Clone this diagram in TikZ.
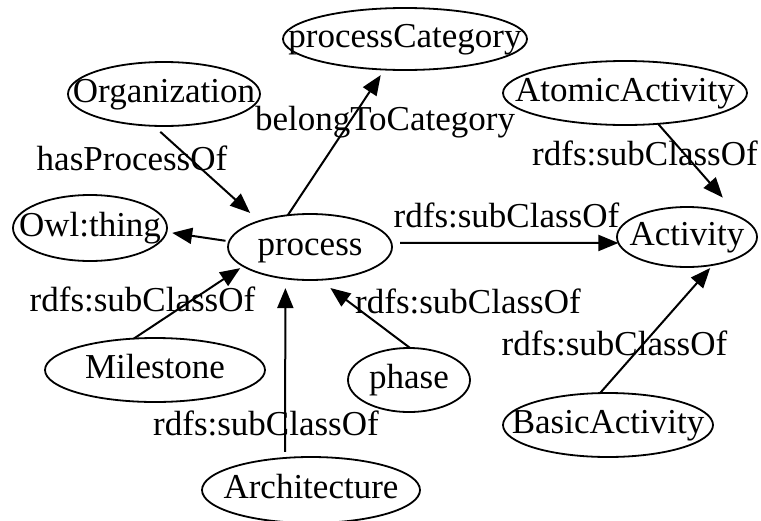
\documentclass[tikz,border=0pt]{standalone}
\usepackage{fontspec}
\setmainfont{Liberation Serif}
\usetikzlibrary{arrows.meta,shapes.geometric}
\newcommand{\ctext}[1]{\makebox[0pt]{\strut #1}}
\begin{document}
\begin{tikzpicture}[x=1pt,y=-1pt,
  every node/.append style={font=\fontsize{35}{42}\selectfont},
  cls/.style={draw, ellipse, line width=1.8pt, inner sep=0pt, outer sep=0pt},
  lbl/.style={inner sep=0pt, anchor=center},
  arr/.style={-{Triangle[length=20pt,width=16pt]}, line width=2pt}]
\useasboundingbox[fill=white] (0,0) rectangle (761,520);
% classes
\node[cls, minimum width=244pt, minimum height=62pt] (pc)   at (405,39)  {\ctext{processCategory}};
\node[cls, minimum width=192pt, minimum height=64pt] (org)  at (164,94)  {\ctext{Organization}};
\node[cls, minimum width=244pt, minimum height=64pt] (aa)   at (625,93)  {\ctext{AtomicActivity}};
\node[cls, minimum width=154pt, minimum height=66pt] (owl)  at (90,228)  {\ctext{Owl:thing}};
\node[cls, minimum width=164pt, minimum height=66pt] (proc) at (310,247) {\ctext{process}};
\node[cls, minimum width=140pt, minimum height=60pt] (act)  at (687,237) {\ctext{Activity}};
\node[cls, minimum width=220pt, minimum height=64pt] (ms)   at (155,370) {\ctext{Milestone}};
\node[cls, minimum width=122pt, minimum height=64pt] (ph)   at (409,380) {\ctext{phase}};
\node[cls, minimum width=210pt, minimum height=64pt] (ba)   at (608,425) {\ctext{BasicActivity}};
\node[cls, minimum width=218pt, minimum height=66pt] (arch) at (311,490) {\ctext{Architecture}};
% connectors
\draw[arr, shorten <=8.9pt, shorten >=12.2pt] (org.-108.3) -- (proc.153.1);
\draw[arr, shorten >=6.6pt] (proc.125.7) -- (pc.-124.9);
\draw[arr, shorten <=3.8pt, shorten >=5.8pt] (proc.176.9) -- (owl.-3);
\draw[arr, shorten <=8.9pt] (proc.3.5) -- (act.-175.9);
\draw[arr, shorten >=26.6pt] (aa.-43) -- (act.20.8);
\draw[arr, shorten >=3.6pt] (ms.124.3) -- (proc.-164.2);
\draw[arr, shorten <=6pt, shorten >=9.6pt] (arch.129.1) -- (proc.-128.5);
\draw[arr, shorten >=13.7pt] (ph.88.2) -- (proc.-74.7);
\draw[arr, shorten >=4.2pt] (ba.104.6) -- (act.-47.2);
% labels
\node[lbl] (l1) at (132,161.6) {\strut hasProcessOf};
\node[lbl] (l2) at (385,122.3) {\strut belongToCategory};
\node[lbl] (l3) at (506.5,218.6) {\strut rdfs:subClassOf};
\node[lbl] (l4) at (645,156.6) {\strut rdfs:subClassOf};
\node[lbl] (l5) at (142.5,303.3) {\strut rdfs:subClassOf};
\node[lbl] (l6) at (266,426.6) {\strut rdfs:subClassOf};
\node[lbl] (l7) at (468,304.6) {\strut rdfs:subClassOf};
\node[lbl] (l8) at (614.5,346.6) {\strut rdfs:subClassOf};
\end{tikzpicture}
\end{document}
